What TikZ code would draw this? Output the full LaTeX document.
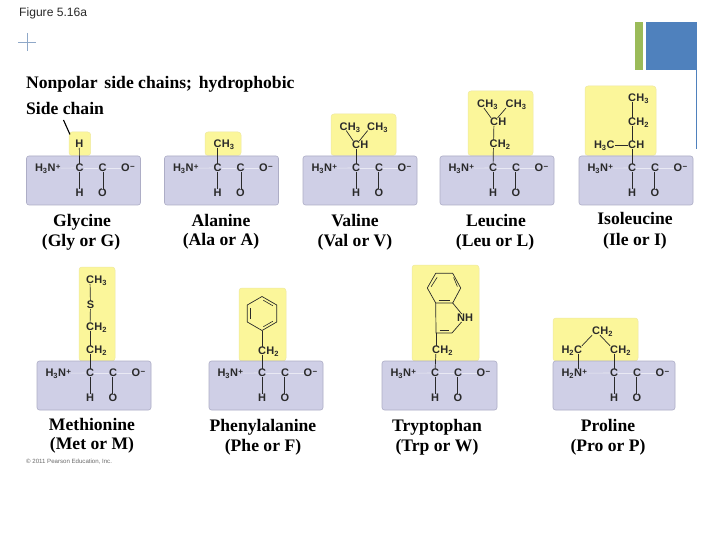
\documentclass[tikz,border=0pt]{standalone}
\usepackage{fontspec}
\setmainfont{Liberation Serif}
\newfontfamily\atomfont{Liberation Sans}
\definecolor{boxc}{HTML}{CFCFE6}
\definecolor{boxe}{HTML}{ADADC6}
\definecolor{sidec}{HTML}{FBF69A}
\definecolor{sidee}{HTML}{EFE9A0}
\definecolor{ink}{HTML}{2A2A2A}
\definecolor{plusc}{HTML}{8FA8C8}
\definecolor{greenc}{HTML}{9BBB59}
\definecolor{bluec}{HTML}{4F81BD}
\newcommand\sbs[1]{\raisebox{-0.35ex}{\fontsize{7.5}{7.5}\selectfont #1}}
\tikzset{
 atom/.style={font=\atomfont\bfseries\fontsize{11}{11}\selectfont,text=ink,inner sep=0pt},
 affix/.style={font=\atomfont\bfseries\fontsize{11}{11}\selectfont,text=ink,inner sep=0pt},
 bond/.style={draw=ink,line width=0.7pt},
 thinbond/.style={draw=ink,line width=0.6pt,shorten >=1.5pt,shorten <=1.5pt},
 dbond/.style={draw=ink,line width=0.55pt,double=boxc,double distance=0.9pt},
 faint/.style={draw=boxc!45!white,line width=0.6pt},
 mainbox/.style={draw=boxe,fill=boxc,rounded corners=2.5pt,line width=0.6pt,inner sep=0pt},
 sidebox/.style={draw=sidee,fill=sidec,rounded corners=3pt,line width=0.5pt,inner sep=0pt},
 lab/.style={font=\bfseries\fontsize{17.6}{17.6}\selectfont,text=black,inner sep=0pt,anchor=base},
}
% #1 name, #2 x, #3 y, #4 text, #5 suffix
\newcommand\atm[5]{%
 \node[atom] (#1) at (#2,#3) {#4};
 \node[affix,anchor=base west] (#1s) at (#1.base east) {#5};}
% #1 name, #2 x, #3 y, #4 text, #5 prefix
\newcommand\atp[5]{%
 \node[atom] (#1) at (#2,#3) {#4};
 \node[affix,anchor=base east] (#1p) at (#1.base west) {#5};}
% #1 name, #2 x, #3 y, #4 x2, #5 y2
\newcommand\sidepanel[5]{%
 \pgfmathsetlengthmacro\pw{(#4-#2)*1pt}\pgfmathsetlengthmacro\ph{(#5-#3)*1pt}%
 \node[sidebox,minimum width=\pw,minimum height=\ph] (#1) at ({(#2+#4)/2},{(#3+#5)/2}) {};}
% #1 name, #2 x, #3 y, #4 width, #5 dx, #6 amine subscript
\newcommand\backbone[6]{%
 \pgfmathsetlengthmacro\pw{#4*1pt}%
 \node[mainbox,minimum width=\pw,minimum height=49pt] (#1box) at ({#2+#4/2},#3+24.5) {};
 \node[atom] (#1N) at (#2+25,#3+12) {N};
 \node[affix,anchor=base east] (#1Np) at (#1N.base west) {H\sbs{#6}};
 \node[affix,anchor=base west] (#1Ns) at (#1N.base east) {\raisebox{0.45ex}{\fontsize{8}{8}\selectfont+}};
 \node[atom] (#1C) at (#2+53+#5,#3+12) {C};
 \node[atom] (#1D) at (#2+76+#5,#3+12) {C};
 \node[atom] (#1O) at (#2+99+#5,#3+12) {O};
 \node[affix,anchor=base west] (#1Om) at (#1O.base east) {\raisebox{0.45ex}{\fontsize{8}{8}\selectfont −}};
 \node[atom] (#1H) at (#2+53+#5,#3+37) {H};
 \node[atom] (#1E) at (#2+76+#5,#3+37) {O};
 \draw[faint] (#1Ns) -- (#1C);
 \draw[faint] (#1C) -- (#1D);
 \draw[faint] (#1D) -- (#1O);
 \draw[bond] (#1C) -- (#1H);
 \draw[dbond] (#1D) -- (#1E);}
\begin{document}
\begin{tikzpicture}[x=1pt,y=-1pt]
\useasboundingbox (0,0) rectangle (720,540);
\fill[white] (0,0) rectangle (720,540);
% slide decoration
\node[font=\atomfont\fontsize{12.1}{12.1}\selectfont,text=ink,anchor=west,inner sep=0pt] (fig) at (19,13) {Figure 5.16a};
\coordinate (pl) at (18,42);\coordinate (pr) at (36,42);\coordinate (pt) at (27,33);\coordinate (pb) at (27,51);
\draw[plusc,line width=0.8pt] (pl) -- (pr);
\draw[plusc,line width=0.8pt] (pt) -- (pb);
\fill[greenc] (635,22) rectangle (643,70);
\fill[bluec] (646,22) rectangle (697,70);
\coordinate (vt) at (696.5,70);\coordinate (vb) at (696.5,149);
\draw[bluec,line width=0.7pt] (vt) -- (vb);
\node[lab,anchor=base west] (title) at (26,88.5) {Nonpolar\hspace{2.5pt} side chains;\hspace{2.5pt} hydrophobic};
\node[lab,anchor=base west] (sc) at (26,114.5) {Side chain};
% side panels
\sidepanel{gs}{69}{132}{90.7}{155.5}
\sidepanel{as}{205}{132}{241}{155.5}
\sidepanel{vs}{331}{114}{396}{155.5}
\sidepanel{ls}{468}{91}{533}{155.5}
\sidepanel{is}{585}{86}{656}{155.5}
\sidepanel{ms}{79}{267}{115}{361}
\sidepanel{fs}{239}{288}{286}{361}
\sidepanel{ws}{412}{265}{479}{361}
\sidepanel{ps}{553}{318}{638}{361}
% backbones
\backbone{g}{26.5}{156}{114}{0}{3}
\backbone{a}{164.5}{156}{114}{0}{3}
\backbone{v}{303}{156}{114}{0}{3}
\backbone{l}{440}{156}{114}{0}{3}
\backbone{i}{579}{156}{114}{0}{3}
\backbone{m}{37}{361}{114}{0}{3}
\backbone{f}{209}{361}{114}{0}{3}
\backbone{w}{382}{361}{115}{0}{3}
\backbone{p}{553}{361}{122}{8}{2}
% side chain pointer
\coordinate (ptr) at (63.5,120);
\draw[black,line width=1.1pt,shorten >=-3pt] (ptr) -- (gs.north west);
% glycine
\node[atom] (g1) at (79.3,144) {H};
\draw[bond] (g1) -- (gC);
% alanine
\atm{a1}{217.5}{144}{C}{H\sbs3}
\draw[bond] (a1) -- (aC);
% valine
\atm{v1}{343.5}{126.5}{C}{H\sbs3}
\atm{v2}{371}{126.5}{C}{H\sbs3}
\atm{v3}{356}{145}{C}{H}
\draw[bond] (v1) -- (v3);
\draw[bond] (v2) -- (v3);
\draw[bond] (v3) -- (vC);
% leucine
\atm{l1}{481}{104}{C}{H\sbs3}
\atm{l2}{509.5}{104}{C}{H\sbs3}
\atm{l3}{494}{122}{C}{H}
\atm{l4}{493.5}{144}{C}{H\sbs2}
\draw[bond] (l1) -- (l3);
\draw[bond] (l2) -- (l3);
\draw[bond] (l3) -- (l4);
\draw[bond] (l4) -- (lC);
% isoleucine
\atm{i1}{632}{98}{C}{H\sbs3}
\atm{i2}{632}{122}{C}{H\sbs2}
\atm{i3}{632}{145}{C}{H}
\atp{i4}{610.5}{145}{C}{H\sbs3}
\draw[bond] (i1) -- (i2);
\draw[bond] (i2) -- (i3);
\draw[bond] (i4) -- (i3);
\draw[bond] (i3) -- (iC);
% methionine
\atm{m1}{90}{280}{C}{H\sbs3}
\node[atom] (m2) at (90.5,305) {S};
\atm{m3}{90}{327}{C}{H\sbs2}
\atm{m4}{90}{350}{C}{H\sbs2}
\draw[bond] (m1) -- (m2);
\draw[bond] (m2) -- (m3);
\draw[bond] (m3) -- (m4);
\draw[bond] (m4) -- (mC);
% phenylalanine
\draw[bond,line join=round] (262,296.5) -- (276.7,305) -- (276.7,322) -- (262,330.5) -- (247.3,322) -- (247.3,305) -- cycle;
\draw[thinbond] (262,299.5) -- (274.1,306.5);
\draw[thinbond] (274.1,320.5) -- (262,327.5);
\draw[thinbond] (249.9,320.5) -- (249.9,306.5);
\coordinate (fhex) at (262,330.5);
\atm{f1}{262}{351}{C}{H\sbs2}
\draw[bond] (fhex) -- (f1);
\draw[bond] (f1) -- (fC);
% tryptophan
\node[atom] (wNH) at (465,318) {NH};
\coordinate (w1) at (435.7,303);\coordinate (w2) at (452.7,303);
\coordinate (w3) at (436,333);\coordinate (w4) at (452,333);
\draw[bond,line join=round] (w1) -- (427.3,288) -- (435.7,273.3) -- (452.7,273.3) -- (460.7,288) -- (w2) -- cycle;
\draw[thinbond] (453,276) -- (458,288);
\draw[thinbond] (438,276) -- (430.3,288);
\draw[thinbond] (437,300.5) -- (451,300.5);
\draw[bond] (w1) -- (w3) -- (w4);
\draw[thinbond] (438,330.5) -- (450,330.5);
\draw[bond] (w4) -- (wNH);
\draw[bond] (w2) -- (wNH);
\atm{w5}{436}{350}{C}{H\sbs2}
\draw[bond] (w3) -- (w5);
\draw[bond] (w5) -- (wC);
% proline
\atm{p1}{596}{331}{C}{H\sbs2}
\atp{p2}{578}{350}{C}{H\sbs2}
\atm{p3}{614}{350}{C}{H\sbs2}
\draw[bond] (p1) -- (p2);
\draw[bond] (p1) -- (p3);
\draw[bond] (p2) -- (pN);
\draw[bond] (p3) -- (pC);
% names
\node[lab] (n1a) at (82,226.5) {Glycine};
\node[lab] (n1b) at (81,246) {(Gly or G)};
\node[lab] (n2a) at (221,226) {Alanine};
\node[lab] (n2b) at (221,245) {(Ala or A)};
\node[lab] (n3a) at (355,226) {Valine};
\node[lab] (n3b) at (355,246) {(Val or V)};
\node[lab] (n4a) at (496,226.5) {Leucine};
\node[lab] (n4b) at (495,247) {(Leu or L)};
\node[lab] (n5a) at (635,225) {Isoleucine};
\node[lab] (n5b) at (635,245) {(Ile or I)};
\node[lab] (n6a) at (92,430) {Methionine};
\node[lab] (n6b) at (92,449) {(Met or M)};
\node[lab] (n7a) at (263,431) {Phenylalanine};
\node[lab] (n7b) at (263,451) {(Phe or F)};
\node[lab] (n8a) at (437,431) {Tryptophan};
\node[lab] (n8b) at (437,451) {(Trp or W)};
\node[lab] (n9a) at (608,431) {Proline};
\node[lab] (n9b) at (608,451) {(Pro or P)};
\node[font=\atomfont\fontsize{6.1}{6.1}\selectfont,text=ink!70,anchor=west,inner sep=0pt] (copy) at (26,461.5) {© 2011 Pearson Education, Inc.};
\end{tikzpicture}
\end{document}
